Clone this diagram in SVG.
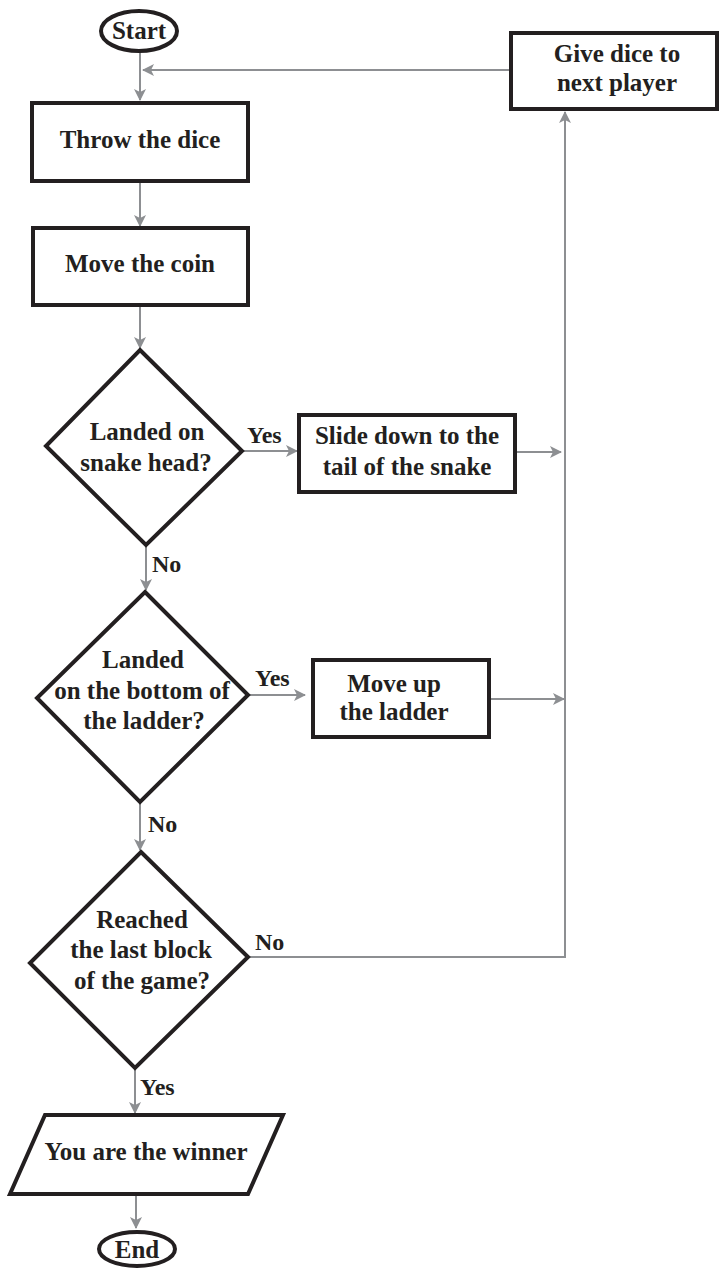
<svg xmlns="http://www.w3.org/2000/svg" width="720" height="1269" viewBox="0 0 720 1269">
<style>
.node{fill:#fff;stroke:#231f20;stroke-width:4;stroke-linejoin:miter}
.conn{fill:none;stroke:#8d8f92;stroke-width:2}
text{font-family:"Liberation Serif","Times New Roman",serif;font-weight:bold;font-size:25px;fill:#231f20;text-anchor:middle}
.lbl{text-anchor:start;font-size:24px}
</style>
<defs>
<marker id="arr" viewBox="0 0 12 12" refX="11" refY="6" markerWidth="12" markerHeight="12" markerUnits="userSpaceOnUse" orient="auto">
<path d="M0,0 L12,6 L0,12 L3,6 Z" fill="#8d8f92"/>
</marker>
</defs>
<rect width="720" height="1269" fill="#fff"/>
<g id="connectors">
<path class="conn" d="M140,52 V100" marker-end="url(#arr)"/>
<path class="conn" d="M509,70 H143" marker-end="url(#arr)"/>
<path class="conn" d="M140,182 V226" marker-end="url(#arr)"/>
<path class="conn" d="M140,306 V348" marker-end="url(#arr)"/>
<path class="conn" d="M242,451 H297" marker-end="url(#arr)"/>
<path class="conn" d="M516,452 H561" marker-end="url(#arr)"/>
<path class="conn" d="M146,545 V590" marker-end="url(#arr)"/>
<path class="conn" d="M248,695 H305" marker-end="url(#arr)"/>
<path class="conn" d="M490,699 H564" marker-end="url(#arr)"/>
<path class="conn" d="M140,802 V850" marker-end="url(#arr)"/>
<path class="conn" d="M248,957 H565 V112" marker-end="url(#arr)"/>
<path class="conn" d="M135,1068 V1113" marker-end="url(#arr)"/>
<path class="conn" d="M136,1194 V1228" marker-end="url(#arr)"/>
<text class="lbl" x="247" y="443">Yes</text>
<text class="lbl" x="152" y="572">No</text>
<text class="lbl" x="255" y="686">Yes</text>
<text class="lbl" x="148" y="832">No</text>
<text class="lbl" x="255" y="950">No</text>
<text class="lbl" x="140" y="1095">Yes</text>
</g>
<g id="start">
<ellipse class="node" cx="139" cy="31" rx="38" ry="20"/>
<text x="139" y="39">Start</text>
</g>
<g id="give-dice">
<rect class="node" x="511" y="33" width="206" height="76"/>
<text x="617" y="62">Give dice to</text>
<text x="617" y="91">next player</text>
</g>
<g id="throw">
<rect class="node" x="32" y="103" width="216" height="78"/>
<text x="140" y="148">Throw the dice</text>
</g>
<g id="move-coin">
<rect class="node" x="33" y="228" width="215" height="77"/>
<text x="140" y="272">Move the coin</text>
</g>
<g id="snake-decision">
<polygon class="node" points="140,350 242,451 146,545 46,446"/>
<text x="147" y="440">Landed on</text>
<text x="146" y="471">snake head?</text>
</g>
<g id="slide-down">
<rect class="node" x="299" y="415" width="216" height="77"/>
<text x="407" y="444">Slide down to the</text>
<text x="407" y="475">tail of  the snake</text>
</g>
<g id="ladder-decision">
<polygon class="node" points="145,592 248,695 140,802 37,698"/>
<text x="143" y="668">Landed</text>
<text x="142" y="699">on the bottom of</text>
<text x="144" y="729">the ladder?</text>
</g>
<g id="move-up">
<rect class="node" x="313" y="660" width="176" height="77"/>
<text x="394" y="692">Move up</text>
<text x="394" y="720">the ladder</text>
</g>
<g id="last-block-decision">
<polygon class="node" points="141,852 248,957 135,1068 30,963"/>
<text x="142" y="928">Reached</text>
<text x="141" y="958">the last block</text>
<text x="142" y="989">of  the game?</text>
</g>
<g id="winner">
<polygon class="node" points="45,1115 283,1115 248,1194 10,1194"/>
<text x="146" y="1160">You are the winner</text>
</g>
<g id="end">
<ellipse class="node" cx="137" cy="1249" rx="38" ry="17"/>
<text x="137" y="1258">End</text>
</g>
</svg>
